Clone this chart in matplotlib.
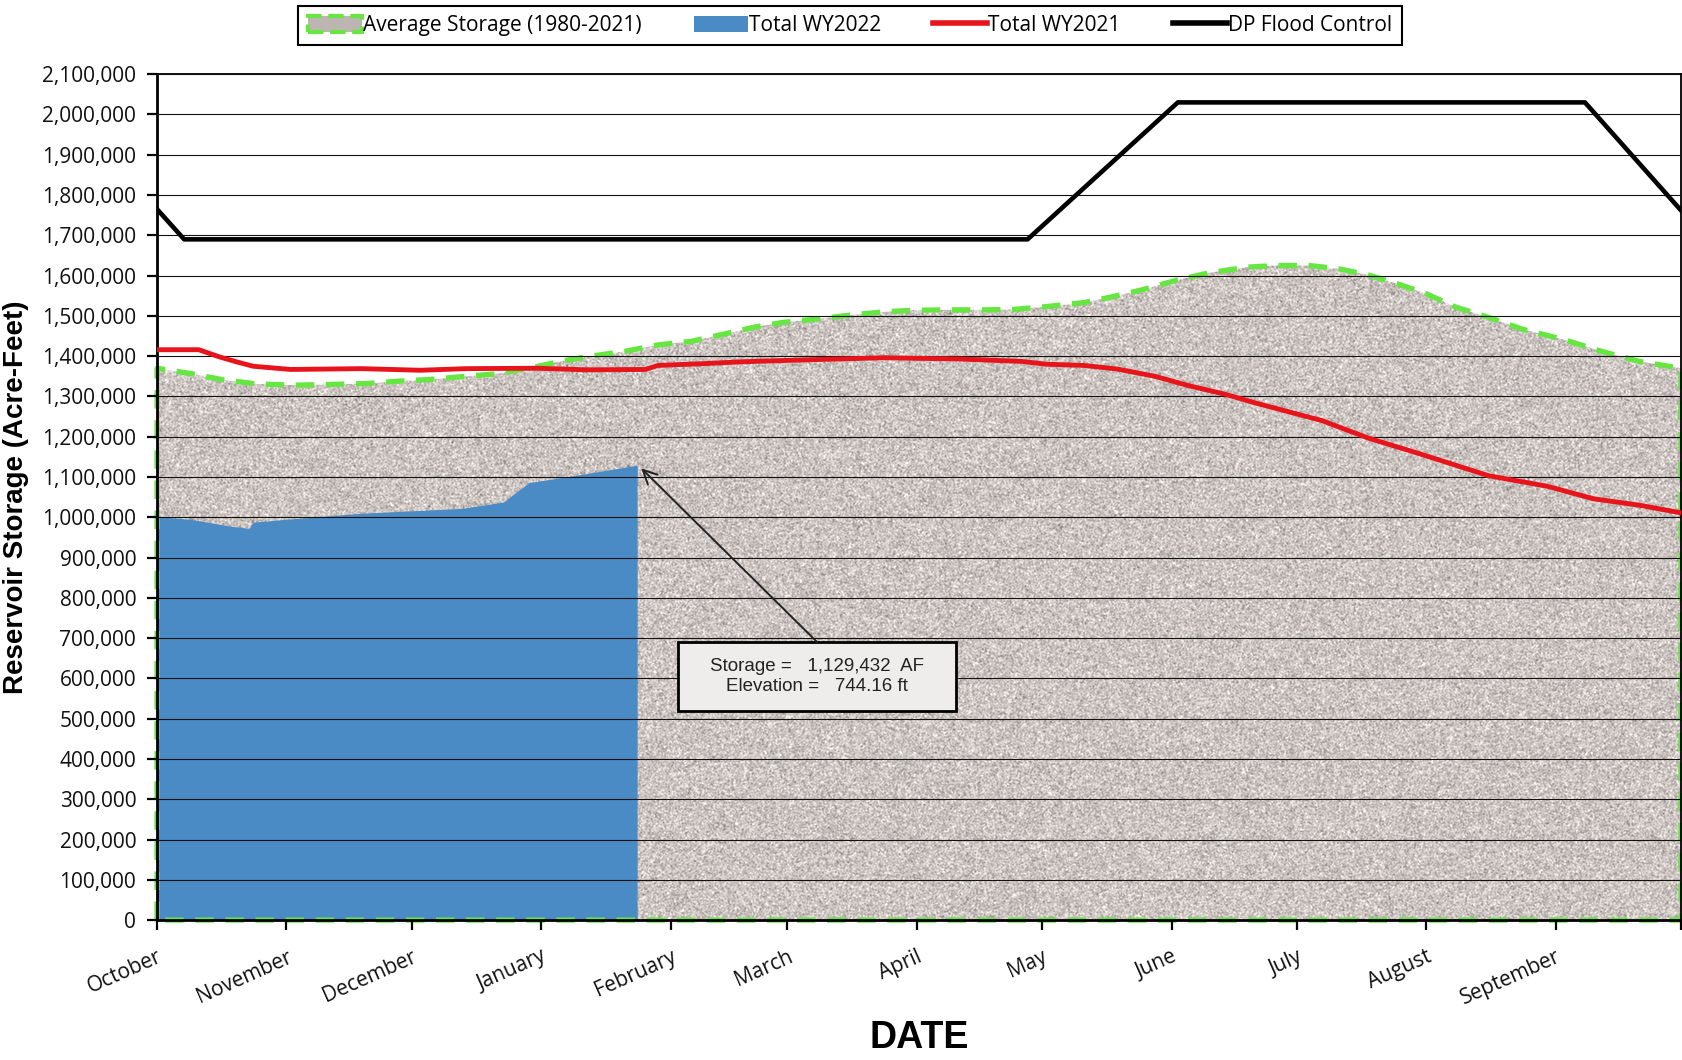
import numpy as np
import matplotlib
matplotlib.use("Agg")
import matplotlib.pyplot as plt
from matplotlib.patches import Patch, Rectangle
from matplotlib.lines import Line2D
from matplotlib.ticker import FuncFormatter

# day of water year (0 = Oct 1)
month_days = [0, 31, 61, 92, 123, 151, 182, 212, 243, 273, 304, 335, 365]
month_labels = ["October", "November", "December", "January", "February", "March",
                "April", "May", "June", "July", "August", "September", ""]

avg_days = [0, 8, 16, 24, 33, 42, 50, 58, 65, 73, 81, 90, 97, 104, 112, 120, 128, 135,
            143, 150, 158, 166, 174, 181, 190, 198, 205, 213, 222, 229, 236, 244, 252,
            261, 268, 276, 283, 290, 297, 304, 311, 319, 327, 337, 346, 355, 365]
avg_storage = [1370000, 1357000, 1341000, 1331000, 1328000, 1330000, 1332000, 1338000,
               1342000, 1349000, 1356000, 1372000, 1388000, 1400000, 1412000, 1428000,
               1437000, 1453000, 1472000, 1484000, 1492000, 1502000, 1510000, 1514000,
               1515000, 1515000, 1516000, 1523000, 1533000, 1548000, 1565000, 1588000,
               1607000, 1621000, 1625000, 1625000, 1617000, 1602000, 1580000, 1555000,
               1522000, 1496000, 1467000, 1441000, 1412000, 1387000, 1370000]

wy2022_days = [0, 8, 17, 22, 23, 32, 49, 73, 83, 89, 99, 115]
wy2022_storage = [1002000, 995000, 979000, 972000, 988000, 996000, 1010000, 1022000,
                  1038000, 1086000, 1102000, 1129432]

wy2021_days = [0, 10, 15, 19, 23, 32, 49, 63, 74, 91, 103, 117, 120, 130, 140, 156, 174,
               192, 207, 213, 222, 230, 239, 247, 256, 263, 279, 290, 302, 319, 333, 344,
               355, 365]
wy2021_storage = [1416000, 1416000, 1398000, 1386000, 1375000, 1367000, 1369000, 1365000,
                  1369000, 1370000, 1366000, 1367000, 1377000, 1381000, 1386000, 1391000,
                  1396000, 1393000, 1387000, 1380000, 1377000, 1368000, 1350000, 1327000,
                  1305000, 1284000, 1240000, 1197000, 1159000, 1103000, 1077000, 1046000,
                  1030000, 1011000]

flood_days = [0, 6.5, 208.5, 244.5, 342, 365]
flood_storage = [1765000, 1690000, 1690000, 2030000, 2030000, 1762000]

green = "#66e640"
blue = "#4a8bc6"
tick_font = "Open Sans"

fig = plt.figure(figsize=(16.83, 10.6), dpi=100)
ax = fig.add_axes([0.0933, 0.132, 0.9055, 0.798])

# granite-like texture for the average storage area
rng = np.random.default_rng(5)
noise = rng.normal(size=(846, 1524))
noise = (noise + np.roll(noise, 1, 0) + np.roll(noise, 1, 1) + np.roll(np.roll(noise, 1, 0), 1, 1)) / 2
base = np.array([0.80, 0.772, 0.758])
tex = np.clip(base + noise[..., None] * np.array([0.07, 0.07, 0.068]), 0, 1)
im = ax.imshow(tex, extent=[0, 365, 0, 2100000], aspect="auto",
               interpolation="nearest", zorder=1)
avg_poly = ax.fill_between(avg_days, avg_storage, 0, facecolor="none", edgecolor=green,
                           linewidth=3.8, linestyle=(0, (3.5, 2.2)), zorder=2.2,
                           clip_on=False)
im.set_clip_path(avg_poly.get_paths()[0], transform=ax.transData)

ax.fill_between(wy2022_days, wy2022_storage, 0, color=blue, linewidth=0, zorder=2)
ax.plot(wy2021_days, wy2021_storage, color="#e8141c", linewidth=3.5, zorder=3)
ax.plot(flood_days, flood_storage, color="black", linewidth=3.3, zorder=3)

ax.set_xlim(0, 365)
ax.set_ylim(0, 2100000)
ax.set_yticks(np.arange(0, 2100001, 100000))
ax.yaxis.set_major_formatter(FuncFormatter(lambda v, p: f"{int(v):,}"))
ax.set_xticks(month_days)
ax.set_xticklabels(month_labels, rotation=24, ha="right", rotation_mode="anchor",
                   fontfamily=tick_font, fontsize=15)
for lab in ax.get_yticklabels():
    lab.set_fontfamily(tick_font)
    lab.set_fontsize(15)
ax.tick_params(axis="both", direction="out", length=7, width=1.6, color="black",
               labelcolor="#111111")
ax.tick_params(axis="y", pad=8)
ax.tick_params(axis="x", pad=12)

ax.set_axisbelow(False)
ax.grid(axis="y", color="#111111", linewidth=0.8)
ax.grid(axis="x", visible=False)
for side in ["left", "bottom"]:
    ax.spines[side].set_linewidth(2)
for side in ["top", "right"]:
    ax.spines[side].set_linewidth(1.3)

ax.set_ylabel("Reservoir Storage (Acre-Feet)", fontfamily="Liberation Sans",
              fontsize=20, fontweight="bold", va="center")
ax.yaxis.set_label_coords(-0.0925, 0.5)
ax.set_xlabel("DATE", fontfamily="Liberation Sans", fontsize=27, fontweight="bold",
              va="center")
ax.xaxis.set_label_coords(0.5, -0.1395)

# annotation box
box = Rectangle((0.342, 0.247), 0.1824, 0.0816, transform=ax.transAxes,
                facecolor="#efedec", edgecolor="black", linewidth=2, zorder=4)
ax.add_patch(box)
ax.text(0.342 + 0.0912, 0.247 + 0.0408, "Storage =   1,129,432  AF\nElevation =   744.16 ft",
        transform=ax.transAxes, ha="center", va="center", fontfamily="Liberation Sans",
        fontsize=13.5, color="#222222", zorder=5, linespacing=1.2)
ax.annotate("", xy=(wy2022_days[-1] + 1, wy2022_storage[-1] - 8000),
            xytext=(0.342 + 0.0912, 0.247 + 0.0816), textcoords="axes fraction",
            arrowprops=dict(arrowstyle="->", color="#222222", linewidth=1.4,
                            mutation_scale=25, shrinkA=0, shrinkB=0), zorder=5)

handles = [
    Patch(facecolor="#bdb5b1", edgecolor=green, linestyle="--", linewidth=3),
    Patch(facecolor=blue),
    Line2D([0], [0], color="#e8141c", linewidth=4),
    Line2D([0], [0], color="black", linewidth=4),
]
labels = ["Average Storage (1980-2021)", "Total WY2022", "Total WY2021", "DP Flood Control"]
leg = fig.legend(handles, labels, loc="center", bbox_to_anchor=(0.505, 0.976), ncol=4,
                 frameon=True, fancybox=False, edgecolor="black", framealpha=1,
                 prop={"family": tick_font, "size": 15}, handlelength=2.6,
                 handleheight=0.8, handletextpad=0.05, columnspacing=2.5, borderpad=0.45,
                 borderaxespad=0)
leg.get_frame().set_linewidth(1.5)

fig.savefig("out.png", dpi=100)
